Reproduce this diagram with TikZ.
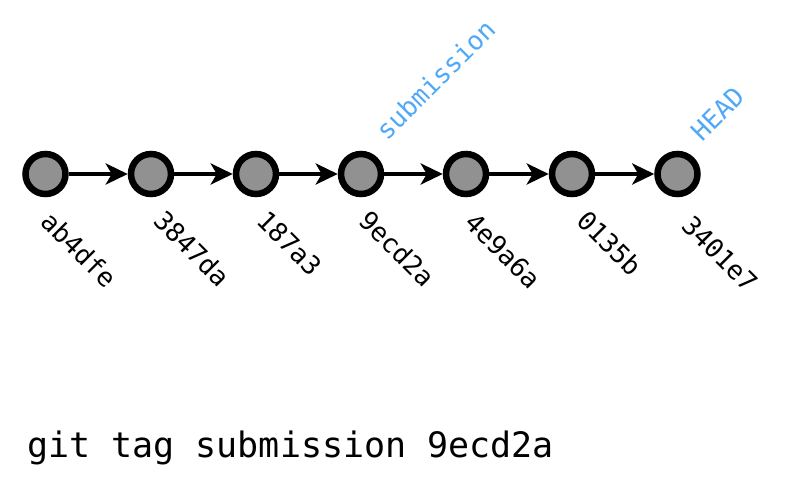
\documentclass[tikz,border=0pt]{standalone}
\usepackage{fontspec}
\setmonofont{DejaVu Sans Mono}
\newfontfamily\labfont{DejaVu Sans Mono}
\newfontfamily\cmdfont{DejaVu Sans Mono}
\usetikzlibrary{arrows.meta}
\definecolor{tagblue}{RGB}{80,168,248}
\definecolor{commitgray}{RGB}{145,145,145}
\tikzset{
  commit/.style={circle, draw=black, fill=commitgray, line width=6.5pt, minimum size=40pt, inner sep=0pt},
  link/.style={line width=4pt, -{Stealth[length=22pt,width=21pt,inset=6pt]}},
  hashlabel/.style={rotate=-45, anchor=base west, inner sep=0pt, font=\labfont\fontsize{26}{26}\selectfont},
  taglabel/.style={rotate=45, anchor=base west, inner sep=0pt, text=tagblue, font=\labfont\fontsize{26}{26}\selectfont},
  cmd/.style={anchor=base west, inner sep=0pt, font=\cmdfont\fontsize{35}{35}\selectfont}
}
\begin{document}
\begin{tikzpicture}[x=1pt,y=-1pt]
\useasboundingbox (0,0) rectangle (793,480);
\node[commit] (c1) at (45.5,174) {};
\node[commit] (c2) at (151,174) {};
\node[commit] (c3) at (256,174) {};
\node[commit] (c4) at (361,174) {};
\node[commit] (c5) at (466,174) {};
\node[commit] (c6) at (572,174) {};
\node[commit] (c7) at (677.5,174) {};
\draw[link] (c1) -- (c2);
\draw[link] (c2) -- (c3);
\draw[link] (c3) -- (c4);
\draw[link] (c4) -- (c5);
\draw[link] (c5) -- (c6);
\draw[link] (c6) -- (c7);
\node[hashlabel] (l1) at (39,223) {ab4dfe};
\node[hashlabel] (l2) at (152,222) {3847da};
\node[hashlabel] (l3) at (255,222) {187a3};
\node[hashlabel] (l4) at (357,222) {9ecd2a};
\node[hashlabel] (l5) at (463,224) {4e9a6a};
\node[hashlabel] (l6) at (575,222) {0135b};
\node[hashlabel] (l7) at (680,227) {3401e7};
\node[taglabel] (t1) at (387,142) {submission};
\node[taglabel] (t2) at (702,143) {HEAD};
\node[cmd] (cmdline) at (27,457) {git tag submission 9ecd2a};
\end{tikzpicture}
\end{document}
